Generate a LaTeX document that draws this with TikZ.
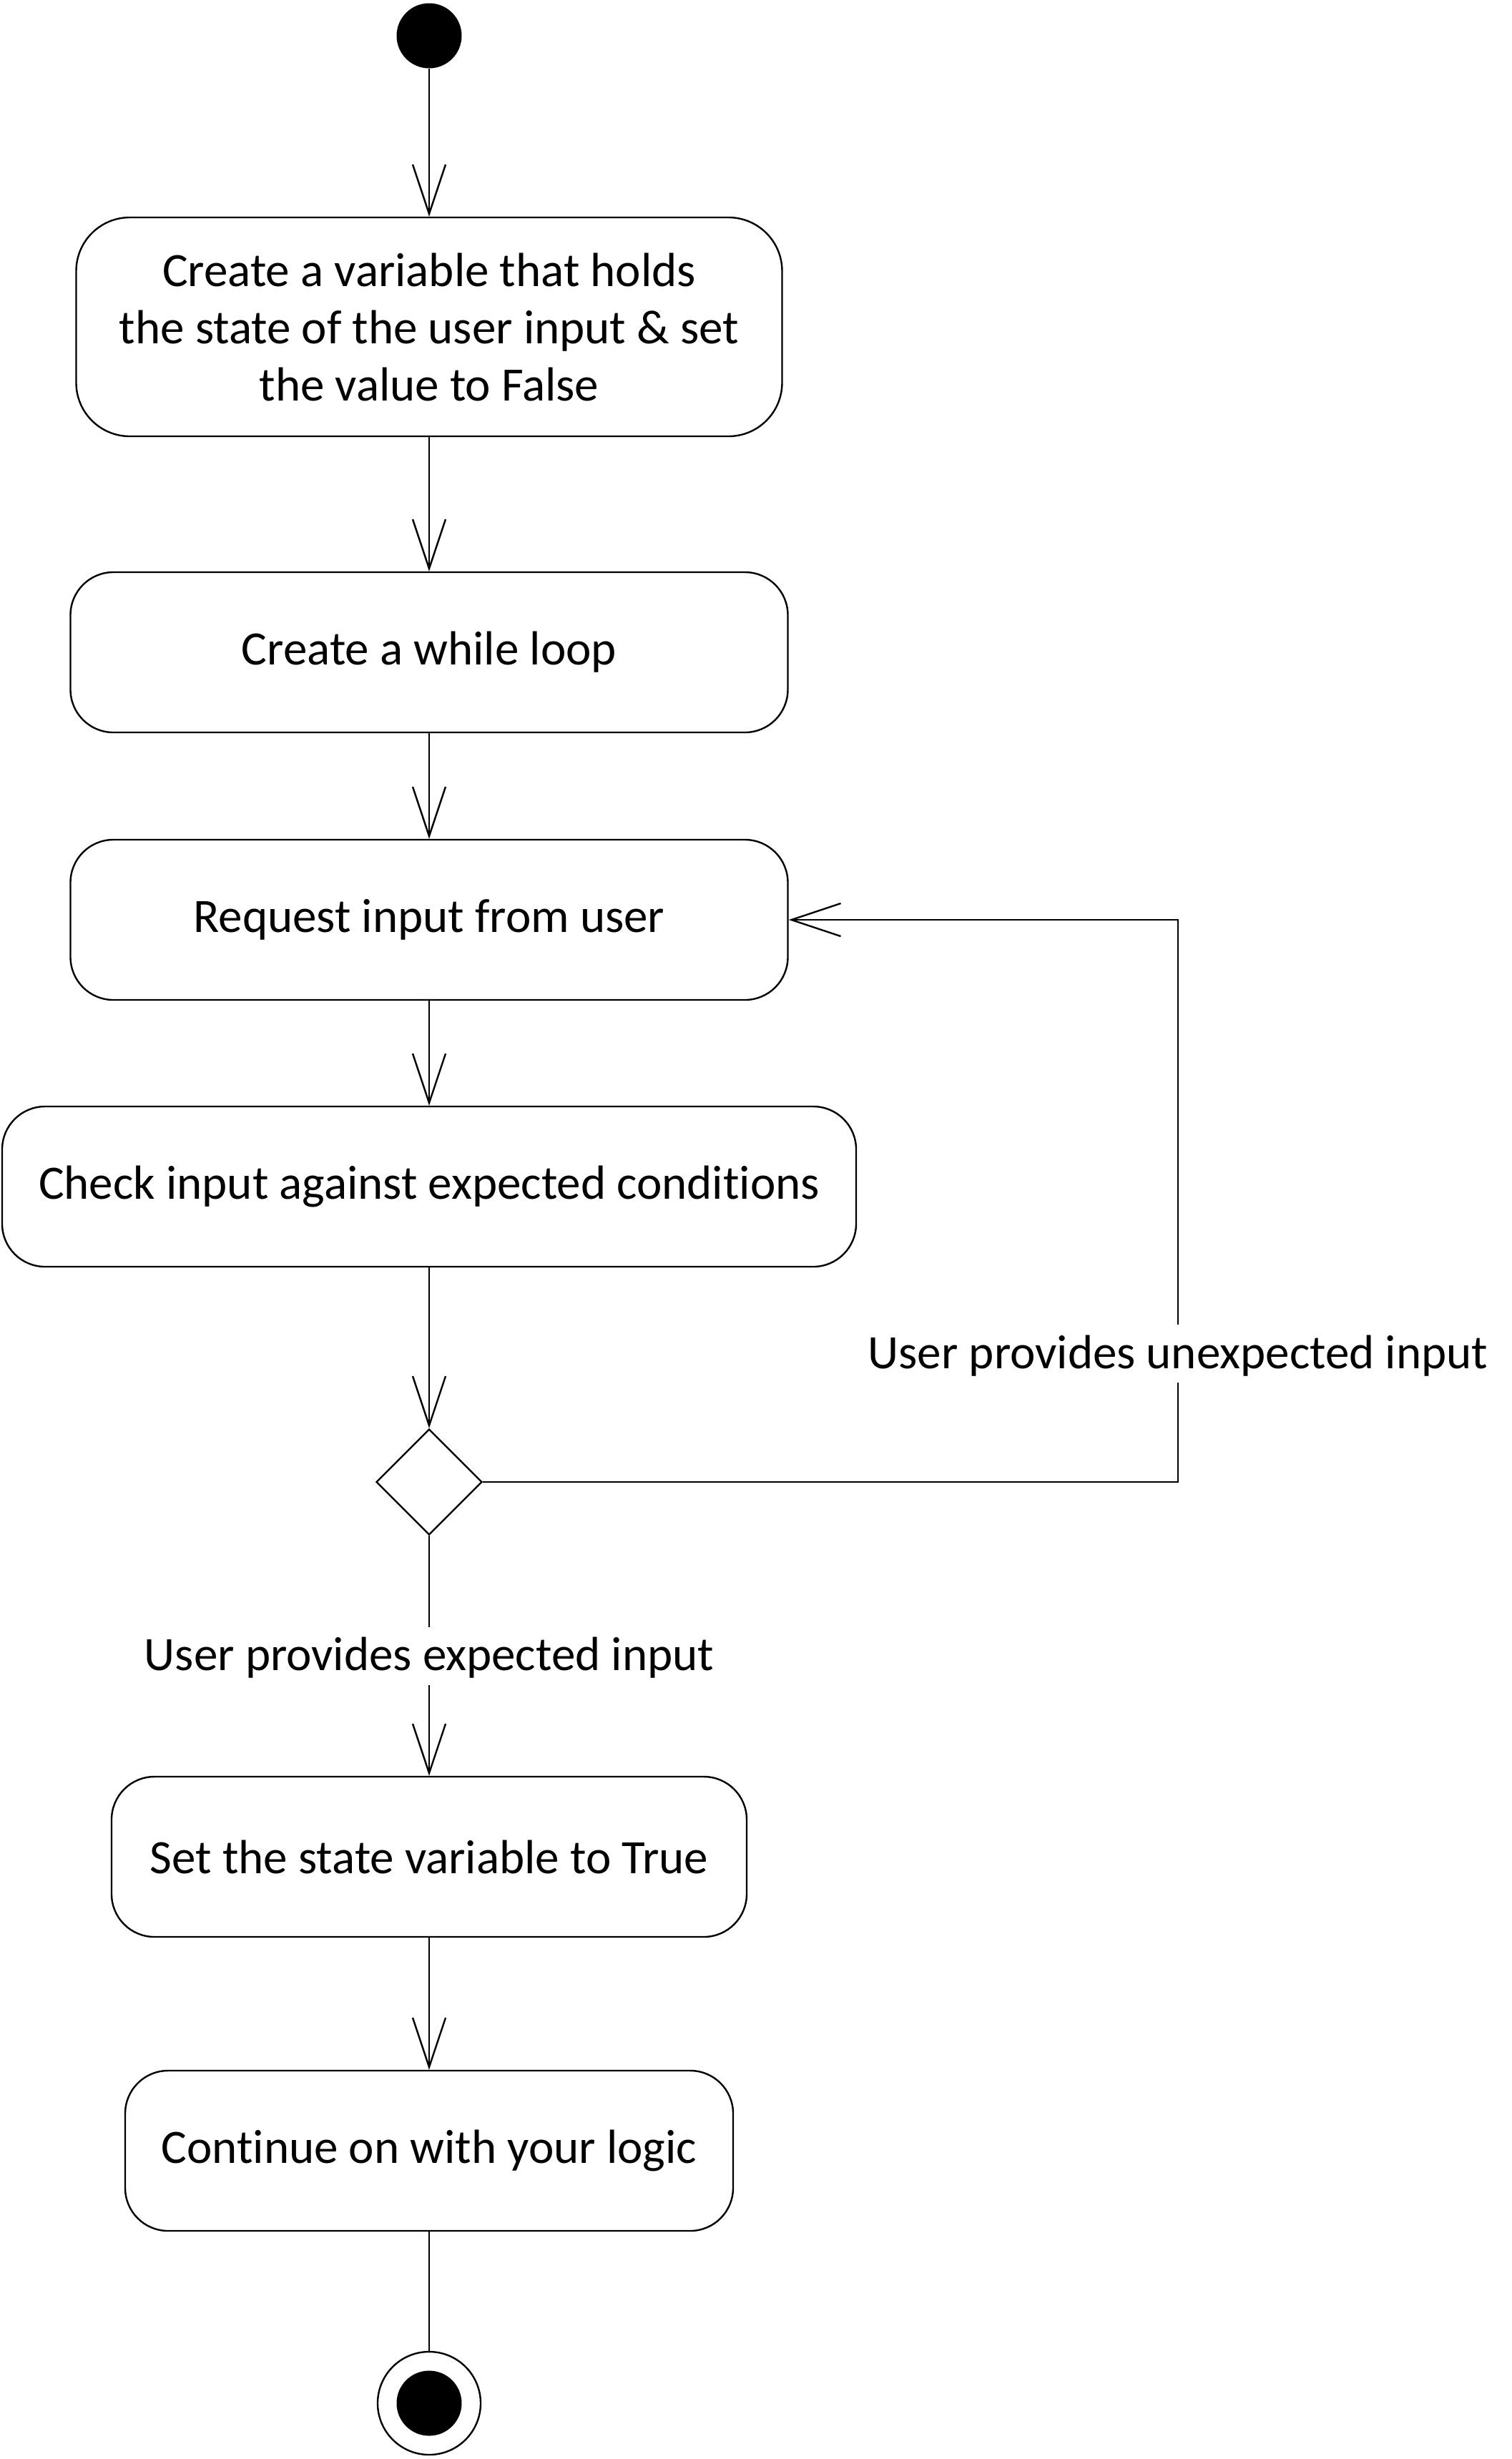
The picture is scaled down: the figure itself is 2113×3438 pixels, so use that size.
\documentclass[tikz,border=0pt]{standalone}
\usepackage{fontspec}
\setmainfont{Carlito}[Ligatures=NoCommon]
\usetikzlibrary{shapes.geometric,arrows.meta}

\begin{document}
\begin{tikzpicture}[
              x=1pt, y=-1pt,
              every node/.style={font=\fontsize{67}{80}\selectfont},
              activity/.style={draw, line width=2.4pt, rounded corners=60pt, minimum height=224pt, align=center, inner sep=0pt},
              initial/.style={circle, fill=black, minimum size=91pt, inner sep=0pt},
              final/.style={circle, draw, line width=2.4pt, minimum size=144pt, inner sep=0pt,
                path picture={\fill (path picture bounding box.center) circle (45.5pt);}},
              decision/.style={diamond, draw, line width=2.4pt, minimum size=148pt, inner sep=0pt},
              flow/.style={draw, line width=2.4pt, -{Straight Barb[length=69pt, width=46pt]}},
              guard/.style={fill=white, inner sep=0pt, text height=61pt, text depth=20pt}
            ]
              \useasboundingbox (0,0) rectangle (2113,3438);
              \node[initial] (start) at (600,50) {};
              \node[activity, minimum width=987pt, minimum height=306pt, rounded corners=75pt] (holdvar) at (600,457)
                {Create a variable that holds\\the state of the user input \& set\\the value to False};
              \node[activity, minimum width=1003pt] (whileloop) at (600,912) {Create a while loop};
              \node[activity, minimum width=1003pt] (request) at (600,1286) {Request input from user};
              \node[activity, minimum width=1194pt] (check) at (600,1659) {Check input against expected conditions};
              \node[decision] (valid) at (600,2072) {};
              \node[activity, minimum width=888pt] (settrue) at (600,2596) {Set the state variable to True};
              \node[activity, minimum width=850pt] (carryon) at (600,3007) {Continue on with your logic};
              \node[final] (stop) at (600,3360) {};
              \coordinate (retry) at (1647,1286);

              \draw[flow] (start) -- (holdvar);
              \draw[flow] (holdvar) -- (whileloop);
              \draw[flow] (whileloop) -- (request);
              \draw[flow] (request) -- (check);
              \draw[flow] (check) -- (valid);
              \draw[flow] (valid.east) -| node[guard, pos=0.614] {User provides unexpected input} (retry) -- (request.east);
              \draw[flow] (valid) -- node[guard] {User provides expected input} (settrue);
              \draw[flow] (settrue) -- (carryon);
              \draw[line width=2.4pt] (carryon) -- (stop);
            \end{tikzpicture}
\end{document}
